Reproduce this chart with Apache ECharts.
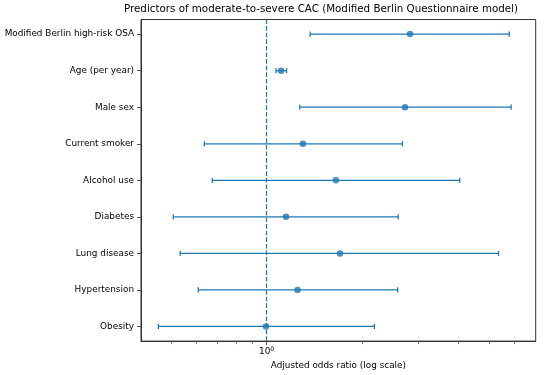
<!DOCTYPE html>
<html>
<head>
<meta charset="utf-8">
<script src="https://cdn.jsdelivr.net/npm/echarts@6/dist/echarts.min.js"></script>
<style>
html,body{margin:0;padding:0;background:#fff;}
#chart{width:550px;height:375px;}
</style>
</head>
<body>
<div id="chart"></div>
<script>
const categories = ["Modified Berlin high-risk OSA","Age (per year)","Male sex","Current smoker","Alcohol use","Diabetes","Lung disease","Hypertension","Obesity"];
const oddsRatio = [2.82, 1.11, 2.72, 1.30, 1.65, 1.15, 1.70, 1.25, 0.995];
const ciLower   = [1.37, 1.07, 1.27, 0.637, 0.675, 0.509, 0.535, 0.610, 0.457];
const ciUpper   = [5.78, 1.155, 5.86, 2.67, 4.04, 2.59, 5.35, 2.58, 2.18];
const majorTicks = [1];
const minorTicks = [0.5,0.6,0.7,0.8,0.9,2,3,4,5,6];
const xMin = 0.403, xMax = 7.0;

const FONT = 'DejaVu Sans';
const C0 = '#1f77b4';
const AX = '#333';
const idx = categories.map((_, i) => i);

const chart = echarts.init(document.getElementById('chart'), null, {renderer: 'canvas'});
chart.setOption({
  animation: false,
  backgroundColor: '#fff',
  title: {
    text: 'Predictors of moderate-to-severe CAC (Modified Berlin Questionnaire model)',
    left: 124, top: 4, padding: 0,
    textStyle: {fontFamily: FONT, fontSize: 10.3, fontWeight: 'normal', color: '#000'}
  },
  grid: {left: 141, right: 14.3, top: 19.5, bottom: 32.3, show: true, borderColor: AX, borderWidth: 1, backgroundColor: 'transparent'},
  xAxis: [{
    type: 'log', logBase: 10, min: xMin, max: xMax,
    name: 'Adjusted odds ratio (log scale)', nameLocation: 'middle', nameGap: 18,
    nameTextStyle: {fontFamily: FONT, fontSize: 8.9, color: '#000'},
    axisLine: {show: true, onZero: false, lineStyle: {color: AX, width: 1}},
    axisTick: {show: true, customValues: majorTicks, length: 4, lineStyle: {color: AX, width: 0.8}},
    axisLabel: {show: true, customValues: majorTicks, margin: 5,
      formatter: v => '{a|10}{b|0}',
      rich: {a: {fontFamily: FONT, fontSize: 8.9, color: '#000'}, b: {fontFamily: FONT, fontSize: 6.3, color: '#000', verticalAlign: 'top', padding: [0,0,5,0]}}},
    splitLine: {show: false}
  }, {
    type: 'log', logBase: 10, min: xMin, max: xMax, position: 'bottom',
    axisLine: {show: false, onZero: false},
    axisTick: {show: true, customValues: minorTicks, length: 3, lineStyle: {color: '#555', width: 0.8}},
    axisLabel: {show: false},
    splitLine: {show: false}
  }],
  yAxis: {
    type: 'value', inverse: true, min: -0.4, max: 8.4,
    axisLine: {show: true, onZero: false, lineStyle: {color: AX, width: 1}},
    axisTick: {show: true, customValues: idx, length: 4, lineStyle: {color: AX, width: 0.8}},
    axisLabel: {show: true, customValues: idx, margin: 7,
      formatter: v => categories[Math.round(v)],
      fontFamily: FONT, fontSize: 8.9, color: '#000'},
    splitLine: {show: false}
  },
  series: [{
    type: 'custom',
    xAxisIndex: 0,
    data: idx.map(i => [ciLower[i], ciUpper[i], i]),
    encode: {x: [0, 1], y: 2},
    renderItem: function (params, api) {
      const y = api.value(2);
      const p1 = api.coord([api.value(0), y]);
      const p2 = api.coord([api.value(1), y]);
      const h = 2.6;
      const style = {stroke: C0, lineWidth: 1.25, fill: null};
      return {type: 'group', children: [
        {type: 'line', shape: {x1: p1[0], y1: p1[1], x2: p2[0], y2: p2[1]}, style: style},
        {type: 'line', shape: {x1: p1[0], y1: p1[1]-h, x2: p1[0], y2: p1[1]+h}, style: style},
        {type: 'line', shape: {x1: p2[0], y1: p2[1]-h, x2: p2[0], y2: p2[1]+h}, style: style}
      ]};
    },
    z: 2
  }, {
    type: 'scatter',
    xAxisIndex: 0,
    data: idx.map(i => [oddsRatio[i], i]),
    symbol: 'circle', symbolSize: 6.5,
    itemStyle: {color: C0},
    z: 3,
    markLine: {
      silent: true, symbol: 'none', label: {show: false},
      lineStyle: {color: C0, type: [4.6, 2], width: 1.25},
      data: [{xAxis: 1}]
    }
  }]
});
</script>
</body>
</html>
